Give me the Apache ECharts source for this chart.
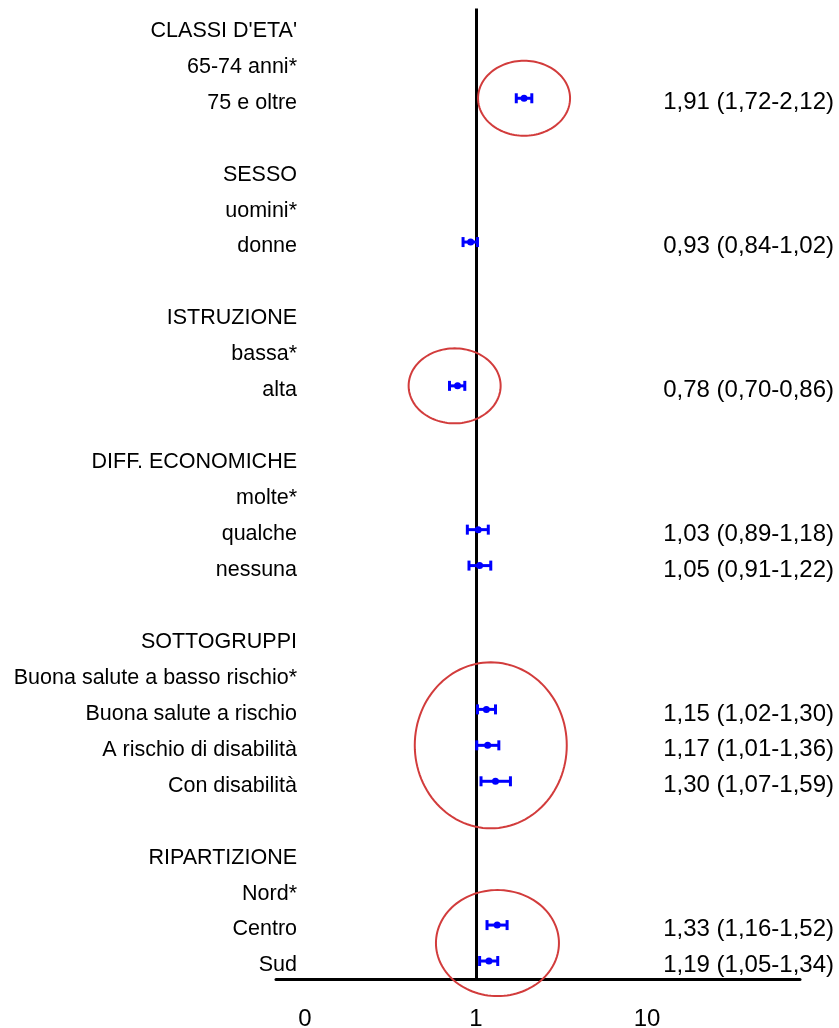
<!DOCTYPE html>
<html>
<head>
<meta charset="utf-8">
<script src="https://cdn.jsdelivr.net/npm/echarts@6/dist/echarts.min.js"></script>
<style>html,body{margin:0;padding:0;background:#fff}#c{width:839px;height:1028px}</style>
</head>
<body>
<div id="c"></div>
<script>
// ---- data ----
const rowLabels = ["CLASSI D'ETA'", "65-74 anni*", "75 e oltre", "",
  "SESSO", "uomini*", "donne", "",
  "ISTRUZIONE", "bassa*", "alta", "",
  "DIFF. ECONOMICHE", "molte*", "qualche", "nessuna", "",
  "SOTTOGRUPPI", "Buona salute a basso rischio*", "Buona salute a rischio", "A rischio di disabilità", "Con disabilità", "",
  "RIPARTIZIONE", "Nord*", "Centro", "Sud"];
const orRows   = [2, 6, 10, 14, 15, 19, 20, 21, 25, 26];
const orValues = [1.91, 0.93, 0.78, 1.03, 1.05, 1.15, 1.17, 1.30, 1.33, 1.19];
const ciLow    = [1.72, 0.84, 0.70, 0.89, 0.91, 1.02, 1.01, 1.07, 1.16, 1.05];
const ciHigh   = [2.12, 1.02, 0.86, 1.18, 1.22, 1.30, 1.36, 1.59, 1.52, 1.34];
const xTickValues = [0.1, 1, 10];
const xTickLabels = ["0", "1", "10"];
const refValue = 1;
// highlighted groups (red ellipses): row span and centre value
const hlRowFrom = [2, 10, 19, 25];
const hlRowTo   = [2, 10, 21, 26];
const hlCenter  = [1.91, 0.75, 1.22, 1.335];

// ---- presentation ----
const hlRadii = [[46, 37.5], [46, 37.5], [76, 83], [61.5, 53]];
const fmt = v => v.toFixed(2).replace('.', ',');
const valueLabels = rowLabels.map((_, i) => {
  const k = orRows.indexOf(i);
  return k < 0 ? '' : fmt(orValues[k]) + ' (' + fmt(ciLow[k]) + '-' + fmt(ciHigh[k]) + ')';
});
const cats = rowLabels.map((_, i) => String(i));
const FONT = "'Liberation Sans', Arial, sans-serif";

const barData = orRows.map((r, k) => [orValues[k], r, ciLow[k], ciHigh[k]]);
const hlData = hlRowFrom.map((r, k) => [hlCenter[k], r, hlRowTo[k], k]);

const chart = echarts.init(document.getElementById('c'), null, {renderer: 'canvas'});
chart.setOption({
  animation: false,
  backgroundColor: '#fff',
  grid: {left: 276, right: 39, top: 8.4, bottom: 49, containLabel: false, outerBoundsMode: 'none'},
  xAxis: {
    type: 'log', logBase: 10,
    min: 0.06767, max: 78.48,
    axisLine: {show: true, lineStyle: {color: '#000', width: 3}},
    axisTick: {show: false},
    splitLine: {show: false},
    axisLabel: {
      customValues: xTickValues,
      formatter: v => { const k = xTickValues.findIndex(t => Math.abs(t - v) < 1e-9 * Math.max(1, t)); return k < 0 ? '' : xTickLabels[k]; },
      fontSize: 24, color: '#000', fontFamily: FONT, margin: 28
    }
  },
  yAxis: [{
    type: 'category', data: cats, inverse: true,
    axisLine: {show: false}, axisTick: {show: false}, splitLine: {show: false},
    axisLabel: {
      interval: 0, formatter: (v, i) => rowLabels[i], fontSize: 21.5, color: '#000',
      fontFamily: FONT, margin: -21, verticalAlign: 'top', lineHeight: 9
    }
  }, {
    type: 'category', data: cats, inverse: true, position: 'right',
    axisLine: {show: false}, axisTick: {show: false}, splitLine: {show: false},
    axisLabel: {
      interval: 0, formatter: (v, i) => valueLabels[i], fontSize: 24, color: '#000',
      fontFamily: FONT, margin: 34, align: 'right', verticalAlign: 'top', lineHeight: 9
    }
  }],
  series: [{
    type: 'scatter', z: 1, silent: true,
    data: [[refValue, 0]], symbolSize: 0,
    markLine: {
      silent: true, symbol: 'none', animation: false,
      label: {show: false},
      lineStyle: {color: '#000', width: 3, type: 'solid'},
      data: [{xAxis: refValue}]
    }
  }, {
    type: 'custom', z: 5, silent: true,
    encode: {x: [0, 2, 3], y: 1},
    data: barData,
    renderItem: (params, api) => {
      const row = api.value(1);
      const pE = api.coord([api.value(0), row]);
      const pL = api.coord([api.value(2), row]);
      const pH = api.coord([api.value(3), row]);
      const st = {stroke: '#0000ff', lineWidth: 3};
      const h = 5;
      return {type: 'group', children: [
        {type: 'line', shape: {x1: pL[0], y1: pL[1], x2: pH[0], y2: pH[1]}, style: st},
        {type: 'line', shape: {x1: pL[0], y1: pL[1] - h, x2: pL[0], y2: pL[1] + h}, style: st},
        {type: 'line', shape: {x1: pH[0], y1: pH[1] - h, x2: pH[0], y2: pH[1] + h}, style: st},
        {type: 'circle', shape: {cx: pE[0], cy: pE[1], r: 3.5}, style: {fill: '#0000ff'}}
      ]};
    }
  }, {
    type: 'custom', z: 6, silent: true,
    encode: {x: 0, y: 1},
    data: hlData,
    renderItem: (params, api) => {
      const k = api.value(3);
      const c1 = api.coord([api.value(0), api.value(1)]);
      const c2 = api.coord([api.value(0), api.value(2)]);
      const cx = c1[0], cy = (c1[1] + c2[1]) / 2;
      const rx = hlRadii[k][0], ry = hlRadii[k][1];
      const pts = [];
      for (let a = 0; a < 120; a++) {
        const t = a / 120 * Math.PI * 2;
        pts.push([cx + rx * Math.cos(t), cy + ry * Math.sin(t)]);
      }
      return {type: 'polygon', shape: {points: pts}, style: {fill: 'none', stroke: '#d23c3c', lineWidth: 2}};
    }
  }]
});
</script>
</body>
</html>
